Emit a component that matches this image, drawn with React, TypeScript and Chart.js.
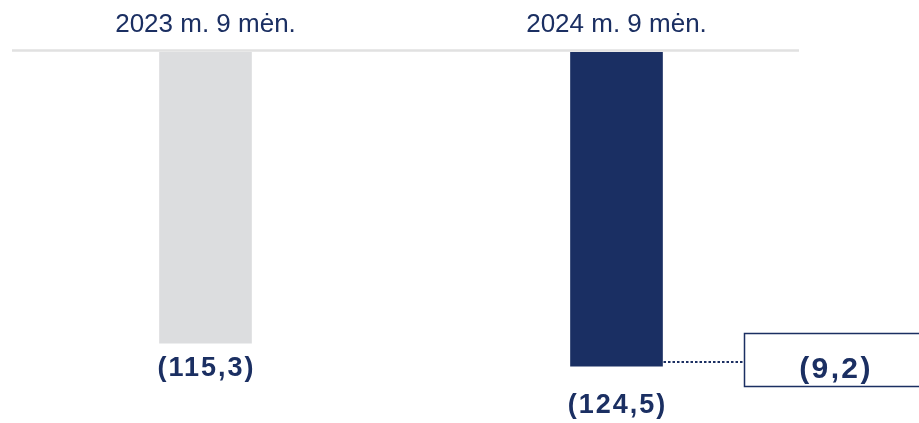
import React, { useEffect, useRef } from "react";
import { Chart, registerables } from "chart.js";

Chart.register(...registerables);

const categories = ["2023 m. 9 mėn.", "2024 m. 9 mėn."];
const values = [115.3, 124.5];
const barColors = ["#dcdddf", "#1a2f63"];

const NAVY = "#1b2f62";
const fmt = (v: number) => "(" + Math.abs(v).toFixed(1).replace(".", ",") + ")";

const overlayPlugin = {
  id: "overlay",
  afterDatasetsDraw(chart: any) {
    const ctx: CanvasRenderingContext2D = chart.ctx;
    const area = chart.chartArea;
    const meta = chart.getDatasetMeta(0);
    ctx.save();

    // top baseline
    ctx.strokeStyle = "#e1e1e1";
    ctx.lineWidth = 2.5;
    ctx.beginPath();
    ctx.moveTo(12, area.top - 1.5);
    ctx.lineTo(799, area.top - 1.5);
    ctx.stroke();

    // category labels on top
    ctx.fillStyle = NAVY;
    ctx.font = "26px 'Liberation Sans', Arial, sans-serif";
    ctx.textAlign = "center";
    ctx.textBaseline = "alphabetic";
    meta.data.forEach((bar: any, i: number) => {
      ctx.fillText(categories[i], bar.x, 32);
    });

    // value labels below bars
    const gaps = [12, 26];
    ctx.font = "bold 27px 'Liberation Sans', Arial, sans-serif";
    (ctx as any).letterSpacing = "2px";
    ctx.textBaseline = "top";
    meta.data.forEach((bar: any, i: number) => {
      ctx.fillText(fmt(values[i]), bar.x + 1, bar.y + gaps[i]);
    });

    // difference connector + box
    const last: any = meta.data[meta.data.length - 1];
    const right = last.x + last.width / 2;
    const boxLeft = 744.5;
    const ly = Math.round(last.y - 4);
    ctx.strokeStyle = NAVY;
    ctx.lineWidth = 2;
    ctx.setLineDash([2.5, 2]);
    ctx.beginPath();
    ctx.moveTo(right + 1, ly);
    ctx.lineTo(boxLeft, ly);
    ctx.stroke();
    ctx.setLineDash([]);
    ctx.lineWidth = 1.5;
    ctx.strokeRect(boxLeft, 333.5, 220, 53);

    const diff = values[values.length - 1] - values[0];
    ctx.font = "bold 30px 'Liberation Sans', Arial, sans-serif";
    (ctx as any).letterSpacing = "2.4px";
    ctx.textBaseline = "middle";
    ctx.fillText(fmt(diff), 836, 370);
    ctx.restore();
  },
};

export default function App() {
  const ref = useRef<HTMLCanvasElement>(null);
  useEffect(() => {
    if (!ref.current) return;
    const chart = new Chart(ref.current, {
      type: "bar",
      data: {
        labels: categories,
        datasets: [
          {
            data: values,
            backgroundColor: barColors,
            barThickness: 92,
            borderWidth: 0,
          },
        ],
      },
      options: {
        responsive: false,
        animation: false,
        layout: { padding: { top: 52, bottom: 17.6, left: 0, right: 97 } },
        plugins: { legend: { display: false }, tooltip: { enabled: false } },
        scales: {
          x: { display: false, grid: { display: false } },
          y: { display: false, reverse: true, min: 0, max: 140, grid: { display: false } },
        },
      },
      plugins: [overlayPlugin],
    });
    return () => chart.destroy();
  }, []);
  return (
    <div style={{ position: "fixed", left: 0, top: 0, width: 919, height: 423, background: "#fff" }}>
      <canvas ref={ref} width={919} height={423} />
    </div>
  );
}
